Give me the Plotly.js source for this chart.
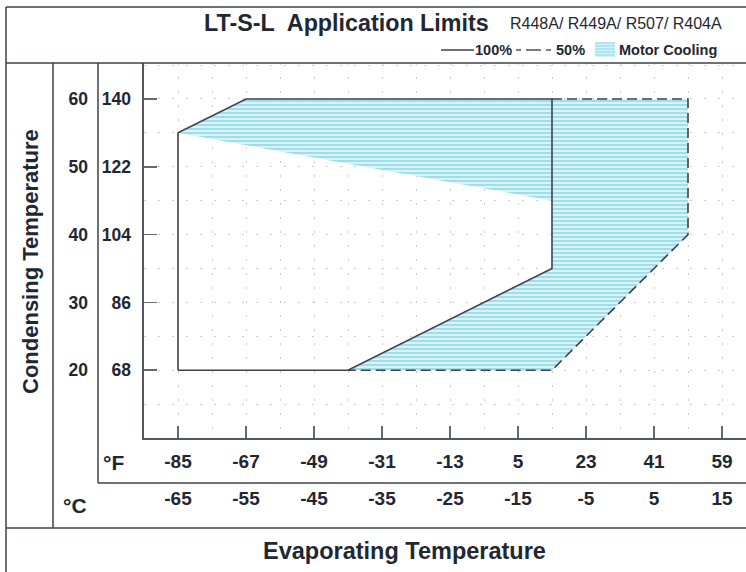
<!DOCTYPE html>
<html>
<head>
<meta charset="utf-8">
<script src="https://cdn.plot.ly/plotly-3.0.1.min.js"></script>
<style>
  html, body { margin: 0; padding: 0; background: #ffffff; }
  #chart { width: 746px; height: 572px; }
</style>
</head>
<body>
<div id="chart"></div>
<script>
// ---- data (°C) ----
const tickC = [-65, -55, -45, -35, -25, -15, -5, 5, 15];
const tickCLabels = ['-65', '-55', '-45', '-35', '-25', '-15', '-5', '5', '15'];
const tickFLabels = ['-85', '-67', '-49', '-31', '-13', '5', '23', '41', '59'];
const condC = [20, 30, 40, 50, 60];
const condCLabels = ['20', '30', '40', '50', '60'];
const condFLabels = ['68', '86', '104', '122', '140'];

// 100% load envelope (solid)
const full100Evap = [-65, -65, -55, -10, -10, -40, -65];
const full100Cond = [20, 55, 60, 60, 35, 20, 20];
// 50% load envelope (dashed)
const half50Evap = [-10, 10, 10, -10, -40];
const half50Cond = [60, 60, 40, 20, 20];
// Motor cooling region
const coolEvap = [-65, -55, 10, 10, -10, -40, -10, -10, -65];
const coolCond = [55, 60, 60, 40, 20, 20, 35, 45, 55];

// ---- layout helpers (pixel -> paper) ----
const L = 144, R = 746, T = 63, B = 438;
const px = v => (v - L) / (R - L);
const py = v => (B - v) / (B - T);

const FONT = 'Liberation Sans, Arial, sans-serif';
const TXT = '#1f2832';
const LINE = '#3e4348';

const traces = [
  {
    x: coolEvap, y: coolCond, type: 'scatter', mode: 'lines',
    fill: 'toself', line: {width: 0, color: 'rgba(0,0,0,0)'},
    fillcolor: '#d6f1f6',
    fillpattern: {shape: '-', fgcolor: '#74d3e4', bgcolor: '#d9f2f7', size: 4, solidity: 0.3},
    hoverinfo: 'skip', showlegend: false
  },
  {
    x: half50Evap, y: half50Cond, type: 'scatter', mode: 'lines',
    line: {color: LINE, width: 1.6, dash: '10px,5px'},
    hoverinfo: 'skip', showlegend: false
  },
  {
    x: full100Evap, y: full100Cond, type: 'scatter', mode: 'lines',
    line: {color: LINE, width: 1.6},
    hoverinfo: 'skip', showlegend: false
  },
  // invisible trace to activate secondary axes
  { x: [-70], y: [10], xaxis: 'x2', yaxis: 'y2', mode: 'markers', marker: {opacity: 0}, hoverinfo: 'skip', showlegend: false }
];

function hline(x0, x1, y, w, dash) {
  return {type: 'line', xref: 'paper', yref: 'paper', x0: px(x0), x1: px(x1), y0: py(y), y1: py(y),
          line: {color: LINE, width: w || 1.5, dash: dash || 'solid'}};
}
function vline(x, y0, y1, w) {
  return {type: 'line', xref: 'paper', yref: 'paper', x0: px(x), x1: px(x), y0: py(y0), y1: py(y1),
          line: {color: LINE, width: w || 1.5}};
}

const shapes = [
  hline(6, 746, 7),
  hline(6, 746, 63),
  vline(6, 7, 572),
  vline(53, 63, 528),
  vline(98, 63, 483),
  hline(98, 746, 483),
  hline(6, 746, 528),
  // legend marks
  hline(441, 474, 50, 1.4),
  hline(516, 521, 50, 1.4),
  hline(526, 541, 50, 1.4),
  hline(546, 551, 50, 1.4),
  {type: 'rect', xref: 'paper', yref: 'paper', x0: px(595), x1: px(615), y0: py(57), y1: py(42),
   fillcolor: '#d6f1f6', line: {width: 0}}
];
for (let yy = 43; yy <= 56; yy += 3) {
  shapes.push({type: 'line', xref: 'paper', yref: 'paper', x0: px(595), x1: px(615), y0: py(yy), y1: py(yy),
               line: {color: '#86d9e8', width: 1}});
}

function ann(text, x, y, size, opts) {
  return Object.assign({
    text: text, xref: 'paper', yref: 'paper', x: px(x), y: py(y), showarrow: false,
    xanchor: 'center', yanchor: 'middle',
    font: {family: FONT, size: size, color: TXT, weight: 'bold'}
  }, opts || {});
}

const annotations = [
  ann('LT-S-L\u00a0 Application Limits', 202, 23, 23.3, {xanchor: 'left'}),
  ann('R448A/ R449A/ R507/ R404A', 508, 24, 16, {xanchor: 'left', font: {family: FONT, size: 16, color: TXT, weight: 'normal'}}),
  ann('100%', 473, 50, 14.5, {xanchor: 'left'}),
  ann('50%', 554, 50, 14.5, {xanchor: 'left'}),
  ann('Motor Cooling', 617, 50, 14.5, {xanchor: 'left'}),
  ann('Condensing Temperature', 30, 262, 22, {textangle: -90}),
  ann('°F', 113, 462, 21),
  ann('°C', 75, 505, 21),
  ann('Evaporating Temperature', 404, 551, 23.5)
];

const gridCommon = {gridcolor: '#cccccc', griddash: '2px,12px', gridwidth: 1};

const layout = {
  width: 746, height: 572,
  margin: {l: L, r: 746 - R, t: T, b: 572 - B},
  paper_bgcolor: '#ffffff', plot_bgcolor: '#ffffff',
  showlegend: false,
  xaxis: {
    range: [-70, 18.53], tickmode: 'array', tickvals: tickC, ticktext: tickFLabels,
    ticks: 'inside', ticklen: 12, tickwidth: 1.5, tickcolor: '#666a6e',
    showline: true, linecolor: '#55595d', linewidth: 1.6, zeroline: false,
    showgrid: false, ticklabelstandoff: 6,
    tickfont: {family: FONT, size: 19, color: TXT, weight: 'bold'},
    minor: Object.assign({tick0: -65, dtick: 5, showgrid: true, ticks: ''}, gridCommon),
    fixedrange: true
  },
  xaxis2: {
    overlaying: 'x', side: 'bottom', range: [-70, 18.53], tickmode: 'array', tickvals: tickC,
    ticktext: tickCLabels, ticks: '', showline: false, showgrid: false, zeroline: false,
    ticklabelstandoff: 47, anchor: 'y',
    tickfont: {family: FONT, size: 19, color: TXT, weight: 'bold'}, fixedrange: true
  },
  yaxis: {
    range: [10, 65.3], tickmode: 'array', tickvals: condC, ticktext: condFLabels,
    ticks: 'inside', ticklen: 13, tickwidth: 1.5, tickcolor: '#666a6e',
    showline: true, linecolor: '#55595d', linewidth: 1.6, zeroline: false,
    showgrid: false, ticklabelstandoff: 8,
    tickfont: {family: FONT, size: 17.5, color: TXT, weight: 'bold'},
    minor: Object.assign({tick0: 20, dtick: 5, showgrid: true, ticks: ''}, gridCommon),
    fixedrange: true
  },
  yaxis2: {
    overlaying: 'y', side: 'left', range: [10, 65.3], tickmode: 'array', tickvals: condC,
    ticktext: condCLabels, ticks: '', showline: false, showgrid: false, zeroline: false,
    ticklabelstandoff: 55, anchor: 'x',
    tickfont: {family: FONT, size: 17.5, color: TXT, weight: 'bold'}, fixedrange: true
  },
  shapes: shapes,
  annotations: annotations
};

Plotly.newPlot('chart', traces, layout, {displayModeBar: false, staticPlot: true});
</script>
</body>
</html>
